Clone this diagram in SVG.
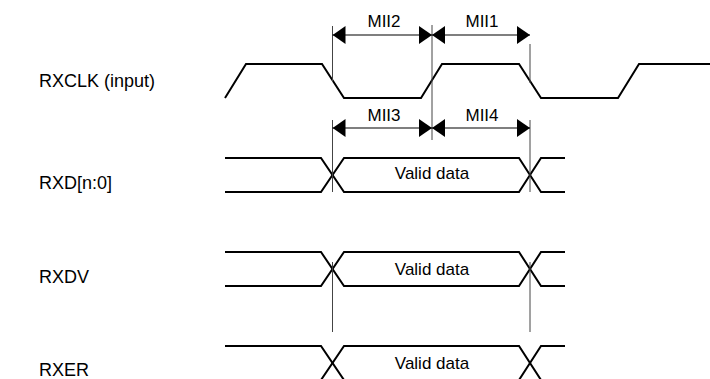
<svg xmlns="http://www.w3.org/2000/svg" width="710" height="379" viewBox="0 0 710 379">
<style>
.sig{fill:none;stroke:#000;stroke-width:2;stroke-linejoin:miter}
.ref{fill:none;stroke:#444;stroke-width:1}
.dim{fill:none;stroke:#000;stroke-width:1.2}
.lbl{font-family:"Liberation Sans",Arial,sans-serif;font-size:18px;fill:#000}
.txt{font-family:"Liberation Sans",Arial,sans-serif;font-size:17px;fill:#000;text-anchor:middle}
</style>
<defs>
<marker id="ah" markerUnits="userSpaceOnUse" markerWidth="13" markerHeight="18" refX="13" refY="9" orient="auto-start-reverse">
<path d="M0,0 L13,9 L0,18 Z" fill="#000"/>
</marker>
</defs>
<rect width="710" height="379" fill="#fff"/>
<g id="labels">
<text class="lbl" x="39" y="87">RXCLK (input)</text>
<text class="lbl" x="39" y="189">RXD[n:0]</text>
<text class="lbl" x="39" y="283">RXDV</text>
<text class="lbl" x="39" y="376">RXER</text>
</g>
<g id="rxclk">
<path class="sig" d="M225,98 L246,64 L322,64 L344,98 L421,98 L442,64 L519,64 L541,98 L618,98 L639,64 L710,64"/>
</g>
<g id="rxd">
<path class="sig" d="M225,158 L321,158 L344,192 L519,192 L541,158 L565,158"/>
<path class="sig" d="M225,192 L321,192 L344,158 L519,158 L541,192 L565,192"/>
<text class="txt" x="432" y="179">Valid data</text>
</g>
<g id="rxdv">
<path class="sig" d="M225,252 L321,252 L344,286 L519,286 L541,252 L565,252"/>
<path class="sig" d="M225,286 L321,286 L344,252 L519,252 L541,286 L565,286"/>
<text class="txt" x="432" y="275">Valid data</text>
</g>
<g id="rxer">
<path class="sig" d="M225,346 L321,346 L344,380 L519,380 L541,346 L565,346"/>
<path class="sig" d="M225,380 L321,380 L344,346 L519,346 L541,380 L565,380"/>
<text class="txt" x="432" y="369">Valid data</text>
</g>
<g id="connectors">
<path class="ref" d="M332.5,26 V82 M332.5,120 V192 M332.5,262 V332 M432,25 V140 M530,44 V83 M530,120 V192 M530,262 V332"/>
<line class="dim" x1="332.5" y1="35" x2="432" y2="35" marker-start="url(#ah)" marker-end="url(#ah)"/>
<line class="dim" x1="432" y1="35" x2="530" y2="35" marker-start="url(#ah)" marker-end="url(#ah)"/>
<line class="dim" x1="332.5" y1="128" x2="432" y2="128" marker-start="url(#ah)" marker-end="url(#ah)"/>
<line class="dim" x1="432" y1="128" x2="530" y2="128" marker-start="url(#ah)" marker-end="url(#ah)"/>
</g>
<g id="dim-labels">
<text class="txt" x="384" y="27">MII2</text>
<text class="txt" x="482" y="27">MII1</text>
<text class="txt" x="384" y="121">MII3</text>
<text class="txt" x="482" y="121">MII4</text>
</g>
</svg>
